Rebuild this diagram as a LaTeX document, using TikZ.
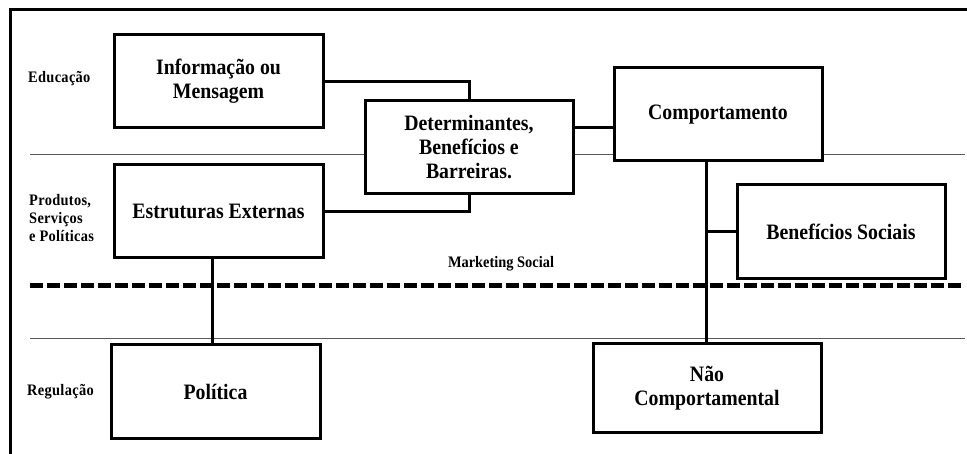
\documentclass[tikz,border=0pt]{standalone}
\usepackage{fontspec}
\setmainfont{Liberation Serif}
\newfontfamily\boxfont[FakeStretch=0.9]{Liberation Serif}
\newfontfamily\lblfont[FakeStretch=0.9,LetterSpace=2]{Liberation Serif}
\begin{document}
\begin{tikzpicture}[x=1pt,y=-1pt,
  box/.style={draw,line width=3pt,fill=white,align=center,inner sep=0pt,
    font=\boxfont\fontsize{22}{24}\selectfont\bfseries},
  conn/.style={line width=3pt},
  sep/.style={line width=0.9pt,black!65},
  lbl/.style={align=left,anchor=west,inner sep=0pt,
    font=\lblfont\fontsize{16}{18}\selectfont\bfseries}]
\useasboundingbox (0,0) rectangle (967,454);
% frame
\draw[line width=3pt] (10,455) -- (10,10) -- (968,10);
% separators
\draw[sep] (30,154) -- (965,154);
\draw[sep] (30,338) -- (965,338);
\draw[line width=5pt,dash pattern=on 13pt off 4pt] (30,286) -- (963,286);
% labels
\node[lbl] (l1) at (28,79) {Educação};
\node[lbl] (l2) at (29,218) {Produtos,\\Serviços\\e Políticas};
\node[lbl] (l3) at (27,392) {Regulação};
\node[inner sep=0pt,font=\boxfont\fontsize{16}{18}\selectfont\bfseries] (ms) at (501,264) {Marketing Social};
% boxes
\node[box,minimum width=209,minimum height=93] (info) at (218.5,81.5) {Informação ou\\Mensagem};
\node[box,minimum width=208,minimum height=93] (det) at (469,147.5) {Determinantes,\\Benefícios e\\Barreiras.};
\node[box,minimum width=208,minimum height=93] (comp) at (718,114.5) {Comportamento};
\node[box,minimum width=209,minimum height=93] (est) at (218.5,211.5) {Estruturas Externas};
\node[box,minimum width=208,minimum height=94] (ben) at (841,232) {Benefícios Sociais};
\node[box,minimum width=209,minimum height=93] (pol) at (215.5,391.5) {Política};
\node[box,minimum width=228,minimum height=88] (non) at (707,388) {Não\\Comportamental};
% connectors
\draw[conn] (info.east) -| (det.north);
\draw[conn] (est.east) -| (det.south);
\draw[conn] ([yshift=19.5pt]det.east) -- ([yshift=-13.5pt]comp.west);
\draw[conn] ([xshift=-1pt]non.north) -- ([xshift=-1pt]non.north |- comp.south);
\draw[conn] (ben.west) -- ([xshift=-1pt]ben.west -| non.north);
\draw[conn] ([xshift=-3.5pt]pol.north) -- ([xshift=-3.5pt]pol.north |- est.south);
\end{tikzpicture}
\end{document}
